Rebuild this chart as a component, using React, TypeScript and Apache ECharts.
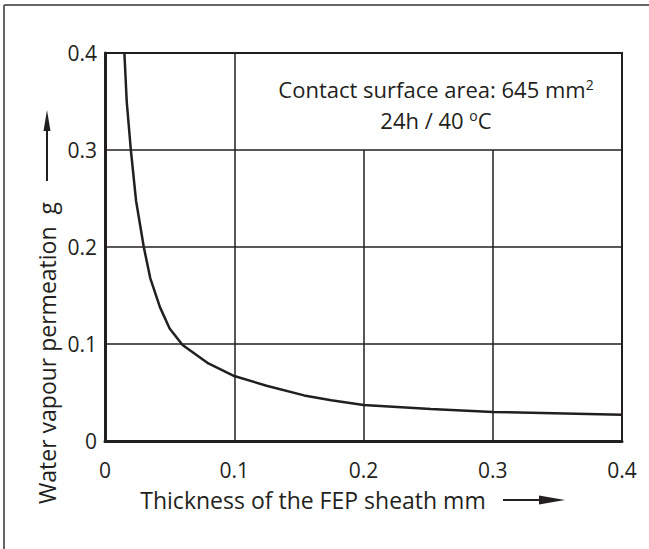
import React, { useEffect, useRef } from "react";
import * as echarts from "echarts";

const thickness = [0.015, 0.0168, 0.02, 0.024, 0.03, 0.035, 0.0425, 0.05, 0.06, 0.08, 0.1, 0.125, 0.154, 0.175, 0.2, 0.252, 0.3, 0.4];
const permeation = [0.4, 0.35, 0.3, 0.248, 0.2, 0.168, 0.138, 0.116, 0.099, 0.08, 0.067, 0.057, 0.047, 0.042, 0.037, 0.033, 0.03, 0.027];
const xTicks = [0, 0.1, 0.2, 0.3, 0.4];
const yTicks = [0, 0.1, 0.2, 0.3, 0.4];
const gridVerticals = [
  { x: 0.1, top: 0.4 },
  { x: 0.2, top: 0.3 },
  { x: 0.3, top: 0.3 },
];
const xName = "Thickness of the FEP sheath mm";
const yName = "Water vapour permeation  g";
const noteLine1 = "{a|Contact surface area: 645 mm}{s|2}";
const noteLine2 = "{a|24h / 40 }{s|o}{a|C}";

const INK = "#231f20";
const FONT = "'Open Sans', sans-serif";
const TICK_FS = 21;
const NAME_FS = 23;

export default function App() {
  const ref = useRef<HTMLDivElement>(null);
  useEffect(() => {
    if (!ref.current) return;
    const chart = echarts.init(ref.current, null, { renderer: "svg" });
    const fmt = (v: number) => (v === 0 ? "0" : String(Math.round(v * 10) / 10));
    const noteRich = {
      a: { fontSize: 22, fontFamily: FONT, fill: INK, lineHeight: 24 },
      s: { fontSize: 14, fontFamily: FONT, fill: INK, lineHeight: 24, verticalAlign: "top", padding: [0, 0, 3, 0] },
    };
    chart.setOption({
      animation: false,
      backgroundColor: "#ffffff",
      grid: {
        left: 105,
        right: 27,
        top: 53,
        bottom: 108,
        show: true,
        borderColor: INK,
        borderWidth: 2,
      },
      xAxis: {
        type: "value",
        min: xTicks[0],
        max: xTicks[xTicks.length - 1],
        interval: 0.1,
        axisLine: { show: true, lineStyle: { color: INK, width: 3 } },
        axisTick: { show: false },
        splitLine: { show: false },
        axisLabel: {
          color: INK,
          fontFamily: FONT,
          fontSize: TICK_FS,
          margin: 18,
          formatter: fmt,
        },
      },
      yAxis: {
        type: "value",
        min: yTicks[0],
        max: yTicks[yTicks.length - 1],
        interval: 0.1,
        axisLine: { show: true, lineStyle: { color: INK, width: 3 } },
        axisTick: { show: false },
        splitLine: { show: true, lineStyle: { color: INK, width: 1.5 } },
        axisLabel: {
          color: INK,
          fontFamily: FONT,
          fontSize: TICK_FS,
          margin: 8,
          formatter: fmt,
        },
      },
      series: [
        {
          type: "line",
          data: thickness.map((t, i) => [t, permeation[i]]),
          showSymbol: false,
          symbol: "none",
          lineStyle: { color: INK, width: 2.5 },
          z: 3,
          markLine: {
            silent: true,
            symbol: ["none", "none"],
            label: { show: false },
            lineStyle: { color: INK, width: 1.5, type: "solid" },
            data: gridVerticals.map((g) => [
              { coord: [g.x, 0] },
              { coord: [g.x, g.top] },
            ]),
          },
        },
      ],
      graphic: [
        {
          type: "line",
          shape: { x1: 4, y1: 5, x2: 649, y2: 5 },
          style: { stroke: "#666", lineWidth: 2 },
        },
        {
          type: "line",
          shape: { x1: 4, y1: 5, x2: 4, y2: 549 },
          style: { stroke: "#666", lineWidth: 2 },
        },
        {
          type: "text",
          x: 436,
          y: 89,
          style: {
            text: noteLine1,
            align: "center",
            verticalAlign: "middle",
            rich: noteRich,
          },
        },
        {
          type: "text",
          x: 436,
          y: 120,
          style: {
            text: noteLine2,
            align: "center",
            verticalAlign: "middle",
            rich: noteRich,
          },
        },
        {
          type: "text",
          x: 313,
          y: 500,
          style: {
            text: xName,
            align: "center",
            verticalAlign: "middle",
            fontSize: NAME_FS,
            fontFamily: FONT,
            fill: INK,
          },
        },
        {
          type: "line",
          shape: { x1: 503, y1: 500, x2: 545, y2: 500 },
          style: { stroke: INK, lineWidth: 2 },
        },
        {
          type: "polygon",
          shape: { points: [[539, 495.5], [565, 500], [539, 504.5]] },
          style: { fill: INK },
        },
        {
          type: "text",
          x: 47,
          y: 353,
          rotation: Math.PI / 2,
          style: {
            text: yName,
            align: "center",
            verticalAlign: "middle",
            fontSize: NAME_FS,
            fontFamily: FONT,
            fill: INK,
          },
        },
        {
          type: "line",
          shape: { x1: 47, y1: 181, x2: 47, y2: 125 },
          style: { stroke: INK, lineWidth: 2 },
        },
        {
          type: "polygon",
          shape: { points: [[43.5, 131], [47, 110], [50.5, 131]] },
          style: { fill: INK },
        },
      ],
    });
    return () => chart.dispose();
  }, []);
  return (
    <div
      ref={ref}
      style={{ position: "fixed", left: 0, top: 0, width: 649, height: 549 }}
    />
  );
}
